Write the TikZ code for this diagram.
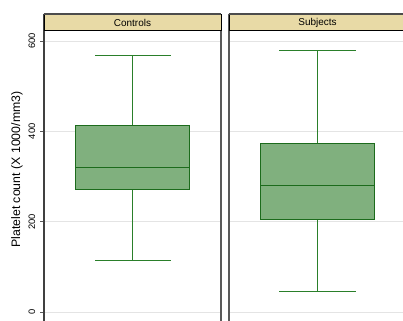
\documentclass[tikz,border=0pt]{standalone}
\usepackage{fontspec}
\setmainfont{Liberation Sans}
\usepackage{xcolor}
\usepackage{tikz}
\usetikzlibrary{positioning}

\definecolor{headfill}{HTML}{E8DAA6}
\definecolor{boxfill}{HTML}{80B07E}
\definecolor{boxline}{HTML}{1C6B1C}
\definecolor{whisk}{HTML}{2A7F2A}
\definecolor{gridgray}{HTML}{E4E4E4}
\definecolor{framegray}{HTML}{5A5A5A}

\begin{document}
\begin{tikzpicture}[x=0.03cm, y=0.03cm, font=\fontsize{8}{9}\selectfont,
  head/.style = {draw=black, fill=headfill, line width=0.6pt, minimum width=5.31cm, minimum height=0.486cm, inner sep=0pt, font=\fontsize{8.5}{10}\selectfont},
  gridline/.style = {draw=gridgray, line width=0.8pt},
  frame/.style = {draw=framegray, line width=1.2pt},
  boxpart/.style = {draw=boxline, fill=boxfill, line width=0.8pt},
  whisker/.style = {draw=whisk, line width=0.8pt},
  ticklabel/.style = {rotate=90, inner sep=0pt}]

\clip (0,0) rectangle (403,321);
\fill[white] (0,0) rectangle (403,321);

% data part: y in units of the axis
\begin{scope}[shift={(0,9)}, y=0.013551cm]
\foreach \v in {0,200,400,600} {
  \draw[gridline] (44,\v) -- (221,\v);
  \draw[gridline] (229,\v) -- (406,\v);
  \draw[line width=0.8pt, framegray] (40,\v) -- (44,\v);
  \node[ticklabel] (tick\v) at (32,\v) {\v};
}

% Controls
\draw[whisker] (132.5,114) -- (132.5,272) (132.5,412) -- (132.5,569);
\draw[whisker] (95,114) -- (171,114) (95,569) -- (171,569);
\draw[boxpart] (75.5,272) rectangle (189.5,412);
\draw[boxline, line width=0.8pt] (75.5,319) -- (189.5,319);

% Subjects
\draw[whisker] (317,45) -- (317,205) (317,374) -- (317,580);
\draw[whisker] (279,45) -- (355.5,45) (279,580) -- (355.5,580);
\draw[boxpart] (260,205) rectangle (374,374);
\draw[boxline, line width=0.8pt] (260,280) -- (374,280);
\end{scope}

\draw[black!75, line width=1.2pt] (44,-2) -- (44,306.5);
\draw[frame] (221,-2) -- (221,306.5);
\draw[frame] (229,-2) -- (229,306.5);

\node[head] (controls) at (132.5,298.4) {Controls};
\node[head] (subjects) at (317.5,298.4) {Subjects};
\draw[black!70, line width=1.5pt] (controls.north west) -- (controls.north east);
\draw[black!70, line width=1.5pt] (subjects.north west) -- (subjects.north east);

\node[ticklabel, font=\fontsize{10.5}{12}\selectfont] (ylabel) at (17,151.5) {Platelet count (X 1000/mm3)};
\end{tikzpicture}
\end{document}
